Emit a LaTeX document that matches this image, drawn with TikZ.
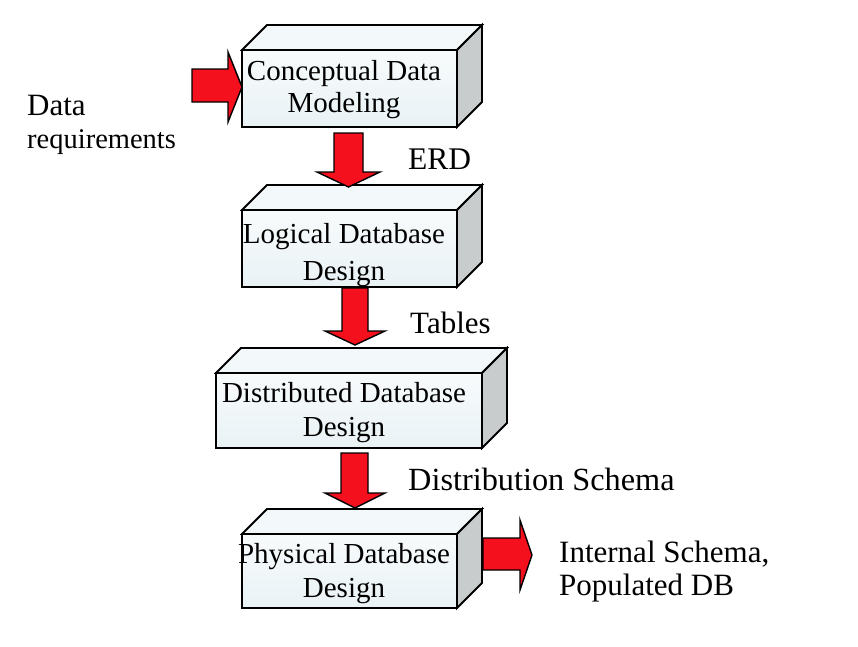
\documentclass[tikz,border=0pt]{standalone}
\usepackage{fontspec}
\setmainfont{Liberation Serif}
\definecolor{facetop}{HTML}{F8FBFC}
\definecolor{facebot}{HTML}{E9F2F5}
\definecolor{topc}{HTML}{F3F8FA}
\definecolor{sidec}{HTML}{C8CCCC}
\definecolor{arrowred}{HTML}{F5101E}
\tikzset{
  front/.style={draw=black, line width=1.8pt, top color=facetop, bottom color=facebot,
    anchor=north west, inner sep=0pt, outer sep=0pt, line join=miter},
  topface/.style={draw=black, line width=1.8pt, fill=topc, line join=miter},
  sideface/.style={draw=black, line width=1.8pt, fill=sidec, line join=miter},
  redarrow/.style={draw=black, line width=1.4pt, fill=arrowred, line join=miter},
  boxtxt/.style={font=\fontsize{29}{32}\selectfont, anchor=base, inner sep=0pt},
  lbl/.style={font=\fontsize{31}{34}\selectfont, anchor=base west, inner sep=0pt},
}
\newcommand\dbbox[5]{% name, x1, y1, w, h
  \node[front, minimum width=#4pt, minimum height=#5pt] (#1) at (#2,#3) {};
  \filldraw[topface] (#1.north west) -- ++(25,-25) -- ++(#4,0) -- (#1.north east) -- cycle;
  \filldraw[sideface] (#1.north east) -- ++(25,-25) -- ++(0,#5) -- (#1.south east) -- cycle;
}
\newcommand\blockdown[8]{% xl shaft, xr shaft, ytop, ybase, xl head, xr head, ytip, xtip
  \filldraw[redarrow] (#1,#3) -- (#2,#3) -- (#2,#4) -- (#6,#4) -- (#8,#7) -- (#5,#4) -- (#1,#4) -- cycle;
}
\begin{document}
\begin{tikzpicture}[x=1pt,y=-1pt]
\useasboundingbox (0,0) rectangle (858,646);

% boxes
\dbbox{b1}{242}{50}{215}{77}
\dbbox{b2}{242}{210}{215}{77}
\dbbox{b3}{216}{373}{266}{75}
\dbbox{b4}{242}{534}{215}{74}

% box texts
\node[boxtxt] (t1a) at (344,80) {Conceptual Data};
\node[boxtxt] (t1b) at (344,112) {Modeling};
\node[boxtxt] (t2a) at (344,243) {Logical Database};
\node[boxtxt] (t2b) at (344,280) {Design};
\node[boxtxt] (t3a) at (344,402) {Distributed Database};
\node[boxtxt] (t3b) at (344,436) {Design};
\node[boxtxt] (t4a) at (344,563) {Physical Database};
\node[boxtxt] (t4b) at (344,597) {Design};

% vertical arrows
\blockdown{334}{363}{133}{172}{317}{380}{187}{348.5}
\blockdown{342}{368}{288}{331}{325}{385}{345}{355}
\blockdown{341}{368}{453}{493}{325}{385}{508}{355}

% input arrow
\filldraw[redarrow] (192,69) -- (228,69) -- (228,52) -- (242,87) -- (228,122) -- (228,102) -- (192,102) -- cycle;
% output arrow
\filldraw[redarrow] (483,538) -- (520,538) -- (520,520) -- (532,555) -- (520,590) -- (520,570) -- (483,570) -- cycle;

% labels
\node[lbl] (data) at (27,115) {Data};
\node[lbl, font=\fontsize{28.5}{32}\selectfont] (req) at (27,148) {requirements};
\node[lbl, font=\fontsize{31.5}{34}\selectfont] (erd) at (408,169) {ERD};
\node[lbl] (tables) at (410,333) {Tables};
\node[lbl, font=\fontsize{32.3}{35}\selectfont] (dist) at (408,490) {Distribution Schema};
\node[lbl] (ints) at (559,562) {Internal Schema,};
\node[lbl] (popdb) at (559,595) {Populated DB};
\end{tikzpicture}
\end{document}
